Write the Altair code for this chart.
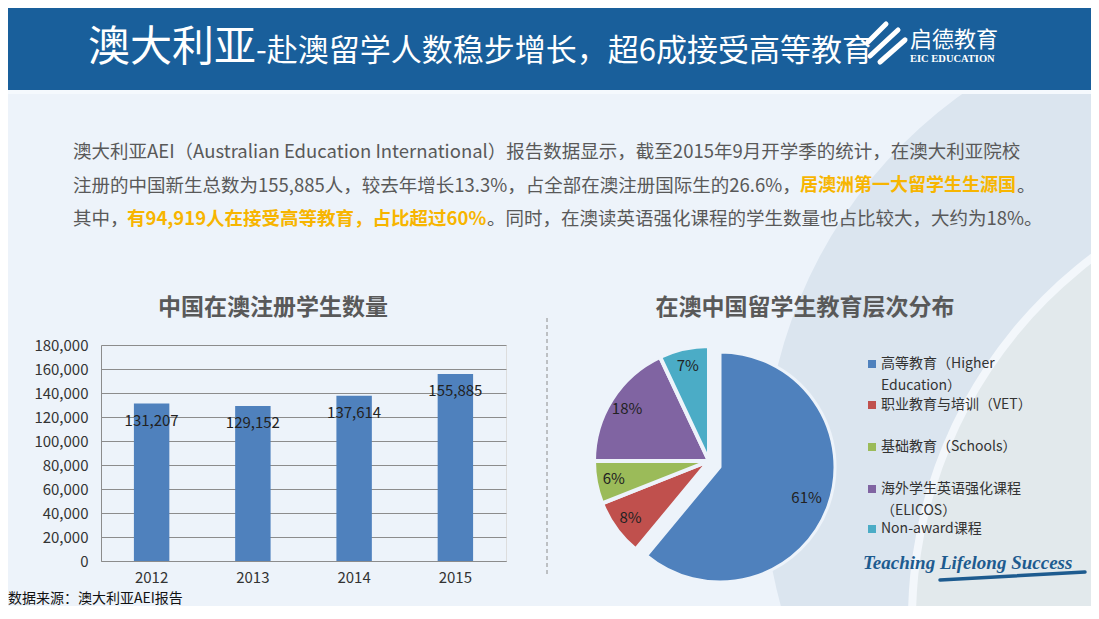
import altair as alt
import pandas as pd

FONT = "Noto Sans CJK SC"
BG = "#edf3fa"
HEADER = "#195f9b"

# ---- data ----
years = ["2012", "2013", "2014", "2015"]
students = [131207, 129152, 137614, 155885]
y_ticks = [0, 20000, 40000, 60000, 80000, 100000, 120000, 140000, 160000, 180000]

pie_cats = ["高等教育（Higher Education）", "职业教育与培训（VET）", "基础教育（Schools）",
            "海外学生英语强化课程（ELICOS）", "Non-award课程"]
pie_pct = [61, 8, 6, 18, 7]
pie_colors = ["#4f81bd", "#c0504d", "#9bbb59", "#8064a2", "#4bacc6"]
legend_lines = [["高等教育（Higher", "Education）"], ["职业教育与培训（VET）"], ["基础教育（Schools）"],
                ["海外学生英语强化课程", "（ELICOS）"], ["Non-award课程"]]

title_big = "澳大利亚"
title_small = "-赴澳留学人数稳步增长，超6成接受高等教育"
para1 = "澳大利亚AEI（Australian Education International）报告数据显示，截至2015年9月开学季的统计，在澳大利亚院校"
para2a = "注册的中国新生总数为155,885人，较去年增长13.3%，占全部在澳注册国际生的26.6%，"
para2b = "居澳洲第一大留学生生源国"
para2c = "。"
para3a = "其中，"
para3b = "有94,919人在接受高等教育，占比超过60%"
para3c = "。同时，在澳读英语强化课程的学生数量也占比较大，大约为18%。"
bar_title = "中国在澳注册学生数量"
pie_title = "在澳中国留学生教育层次分布"
source = "数据来源：澳大利亚AEI报告"
slogan = "Teaching Lifelong Success"

bar_df = pd.DataFrame({"year": years, "students": students})
pie_df = pd.DataFrame({"cat": pie_cats, "pct": pie_pct, "order": list(range(len(pie_cats)))})
one = pd.DataFrame({"k": [0]})

# ---- helpers ----
def txt(s, x, y, size, color, weight="normal", align="left", baseline="middle", font=FONT, style="normal"):
    return alt.Chart(one).mark_text(text=s, fontSize=size, color=color, fontWeight=weight,
                                    align=align, baseline=baseline, font=font, fontStyle=style).encode(
        x=alt.value(x), y=alt.value(y))

def rect(x1, x2, y1, y2, color):
    return alt.Chart(one).mark_rect(color=color).encode(
        x=alt.value(x1), x2=alt.value(x2), y=alt.value(y1), y2=alt.value(y2))

def line(x1, y1, x2, y2, color, width, dash=None, cap="round"):
    kw = dict(color=color, strokeWidth=width, strokeCap=cap)
    if dash:
        kw["strokeDash"] = dash
    return alt.Chart(one).mark_rule(**kw).encode(
        x=alt.value(x1), x2=alt.value(x2), y=alt.value(y1), y2=alt.value(y2))

def disc(cx, cy, r, color, inner=0):
    return alt.Chart(one).mark_arc(radius=r, radius2=inner, theta=0, theta2=6.2832, color=color).encode(
        x=alt.value(cx), y=alt.value(cy))

layers = []

# background swooshes
layers.append(disc(1138, 135, 475, "#dbe5ef"))
layers.append(disc(1265, 275, 452, "#e2e9ec"))
layers.append(disc(1265, 275, 458, "#f3f7fb", inner=450))

# header
layers.append(rect(-93, 990, -337, -255, HEADER))
layers.append(rect(-93, 990, -255, -251, "#f5f9fd"))
layers.append(txt(title_big, -13, -284, 42, "white", baseline="alphabetic"))
layers.append(txt(title_small, 155, -284, 31, "white", baseline="alphabetic"))
# logo
layers.append(line(767, -303, 785, -321, "white", 5))
layers.append(line(769, -289, 797, -315, "white", 5))
layers.append(line(779, -283, 804, -305, "white", 5))
layers.append(txt("启德教育", 809, -305, 22, "white"))
layers.append(txt("EIC EDUCATION", 809, -286, 10.5, "white", weight="bold", font="Liberation Serif"))

# paragraph
GRAY = "#595959"
ORANGE = "#f7b500"
PS = 18.5
layers.append(txt(para1, -28, -193, PS, GRAY))
layers.append(txt(para2a, -28, -159, PS, GRAY))
layers.append(txt(para2b, 699, -159, 18, ORANGE, weight="bold"))
layers.append(txt(para2c, 916, -159, PS, GRAY))
layers.append(txt(para3a, -28, -126, PS, GRAY))
layers.append(txt(para3b, 26, -126, PS, ORANGE, weight="bold"))
layers.append(txt(para3c, 386, -126, PS, GRAY))

# chart titles
layers.append(txt(bar_title, 172, -37, 23, GRAY, weight="bold", align="center"))
layers.append(txt(pie_title, 704, -37, 23, GRAY, weight="bold", align="center"))

# divider
layers.append(line(446, -27, 446, 232, "#8c8c8c", 1, dash=[4, 3], cap="butt"))

# ---- bar chart ----
xenc = alt.X("year:N", title=None, sort=years,
             scale=alt.Scale(paddingInner=0.65, paddingOuter=0.325),
             axis=alt.Axis(labelAngle=0, ticks=False, domainColor="#8c8c8c", labelFontSize=15,
                           labelColor="#333333", labelPadding=9, labelFont=FONT, grid=False))
yenc = alt.Y("students:Q", title=None, scale=alt.Scale(domain=[0, 180000], nice=False),
             axis=alt.Axis(values=y_ticks, labelExpr="format(datum.value, ',')", ticks=False, grid=True,
                           gridColor="#8c8c8c", gridOpacity=1, domainColor="#8c8c8c", labelFontSize=15,
                           labelColor="#333333", labelPadding=13, labelFont=FONT, labelOverlap=False))
layers.append(alt.Chart(bar_df).mark_bar(color="#4f81bd").encode(x=xenc, y=yenc))
layers.append(alt.Chart(bar_df).mark_text(dy=17, fontSize=15, color="#222222", font=FONT).encode(
    x=xenc, y=yenc, text=alt.Text("students:Q", format=",")))

# ---- pie chart ----
theta_scale = alt.Scale(domain=[0, 100], range=[0, 6.283185307179586])
color_enc = alt.Color("cat:N", scale=alt.Scale(domain=pie_cats, range=pie_colors), legend=None)
pie_base = alt.Chart(pie_df).transform_window(
    end="sum(pct)", sort=[alt.SortField("order")], frame=[None, 0]
).transform_calculate(
    start="datum.end - datum.pct"
).transform_calculate(
    mid="datum.end - datum.pct / 2", label="datum.pct + '%'"
)
MAIN_C = (619, 122)
REST_C = (608, 116)
layers.append(pie_base.transform_filter("datum.order == 0").mark_arc(
    radius=115, stroke=BG, strokeWidth=3, strokeJoin="round").encode(
    theta=alt.Theta("start:Q", scale=theta_scale), theta2=alt.Theta2("end:Q"), color=color_enc,
    x=alt.value(MAIN_C[0]), y=alt.value(MAIN_C[1])))
layers.append(pie_base.transform_filter("datum.order > 0").mark_arc(
    radius=115, stroke=BG, strokeWidth=4, strokeJoin="round").encode(
    theta=alt.Theta("start:Q", scale=theta_scale), theta2=alt.Theta2("end:Q"), color=color_enc,
    x=alt.value(REST_C[0]), y=alt.value(REST_C[1])))
layers.append(pie_base.transform_filter("datum.order == 0").mark_text(
    radius=92, fontSize=15, color="#222222", font=FONT).encode(
    theta=alt.Theta("mid:Q", scale=theta_scale), text="label:N",
    x=alt.value(MAIN_C[0]), y=alt.value(MAIN_C[1])))
layers.append(pie_base.transform_filter("datum.order > 0").mark_text(
    radius=97, fontSize=15, color="#222222", font=FONT).encode(
    theta=alt.Theta("mid:Q", scale=theta_scale), text="label:N",
    x=alt.value(REST_C[0]), y=alt.value(REST_C[1])))

# legend (manual)
item_y = [19, 60, 102, 144, 184]
for i, (cat, lines) in enumerate(zip(pie_cats, legend_lines)):
    layers.append(alt.Chart(pie_df).transform_filter(alt.datum.cat == cat).mark_square(
        size=64, opacity=1).encode(x=alt.value(771), y=alt.value(item_y[i]), color=color_enc))
    for j, s in enumerate(lines):
        layers.append(txt(s, 780, item_y[i] + 22 * j, 14, "#333333"))

# slogan
layers.append(line(839, 235, 984, 227, "#1d5b8f", 3.5))
layers.append(txt(slogan, 762, 218, 19, "#1d5b8f", weight="bold",
                  font="Liberation Serif", style="italic"))

# source
layers.append(txt(source, -93, 254, 14, "#111111"))

chart = alt.layer(*layers).properties(
    width=405, height=216, background=BG,
    autosize=alt.AutoSizeParams(type="none"),
    padding={"left": 93, "top": 337, "right": 585, "bottom": 45}
).configure_view(stroke=None).configure(font=FONT)

chart.save("out.html", embed_options={"renderer": "svg", "actions": False})
